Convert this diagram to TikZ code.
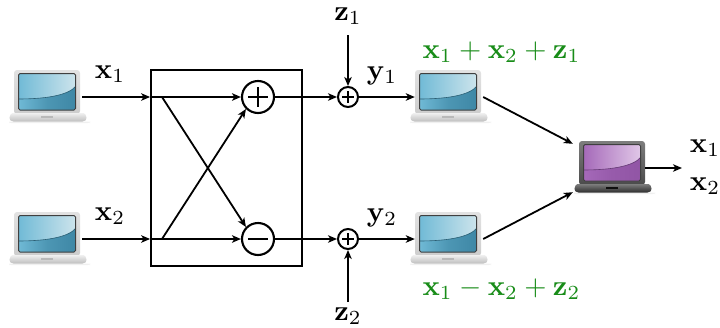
\documentclass[tikz,border=0pt]{standalone}
\usetikzlibrary{arrows.meta,positioning}
\definecolor{gtext}{RGB}{24,140,24}
\definecolor{bodyA}{RGB}{226,226,226}\definecolor{bodyB}{RGB}{205,205,205}
\definecolor{baseA}{RGB}{240,240,240}\definecolor{baseB}{RGB}{190,190,190}
\definecolor{slotA}{RGB}{185,185,185}
\definecolor{scrA}{RGB}{112,186,214}\definecolor{scrB}{RGB}{205,228,236}\definecolor{scrC}{RGB}{62,135,165}
\definecolor{dbodyA}{RGB}{125,125,125}\definecolor{dbodyB}{RGB}{75,75,75}
\definecolor{dbaseA}{RGB}{125,125,125}\definecolor{dbaseB}{RGB}{45,45,45}
\definecolor{dslot}{RGB}{15,15,15}
\definecolor{dscrA}{RGB}{165,105,185}\definecolor{dscrB}{RGB}{225,200,232}\definecolor{dscrC}{RGB}{145,85,165}
\tikzset{
  wire/.style={line width=1.8pt,black},
  arr/.style={wire,-{Stealth[length=9pt,width=7.5pt,inset=2.5pt]}},
  lab/.style={inner sep=0pt,scale=2.86},
  glab/.style={lab,text=gtext},
  op/.style={circle,draw,line width=2.1pt,minimum size=32pt,inner sep=0pt,fill=white},
  opsmall/.style={circle,draw,line width=2pt,minimum size=20pt,inner sep=0pt,fill=white},
  anchorbox/.style={inner sep=0pt,minimum width=72pt,minimum height=44pt},
}
% #1,#2 centre; #3 colour prefix of the body; #4 prefix of the base; #5 slot; #6 prefix of the screen
\newcommand{\drawlaptop}[6]{%
  \begin{scope}[shift={(#1,#2)}]
    \fill[black!6,rounded corners=2pt] (-39,25.5) rectangle (42,27);
    \shade[top color=#3A,bottom color=#3B,rounded corners=3pt] (-34,-26) rectangle (32,18);
    \shade[top color=#4A,bottom color=#4B,rounded corners=1.5pt] (-37,17) -- (37,17) -- (39,23) -- (36,25.5) -- (-36,25.5) -- (-39,23) -- cycle;
    \fill[#5] (-7,20) rectangle (5,21.5);
    \begin{scope}
      \path[clip,rounded corners=1.5pt] (-29.5,-22.5) rectangle (27.5,14);
      \shade[left color=#6A,right color=#6B] (-30,-23) rectangle (28,15);
      \shade[left color=#6A,right color=#6C,middle color=#6C!70!#6A] (-30,3) .. controls (-5,3) and (20,0) .. (28,-10) -- (28,15) -- (-30,15) -- cycle;
      \draw[#6C!70!black,line width=0.6pt] (-30,3) .. controls (-5,3) and (20,0) .. (28,-10);
    \end{scope}
    \draw[black!75,line width=1pt,rounded corners=1.5pt] (-29.5,-22.5) rectangle (27.5,14);
  \end{scope}}
\begin{document}
\begin{tikzpicture}[x=1pt,y=-1pt]
\useasboundingbox (0,0) rectangle (720,327);
% laptops
\drawlaptop{48}{96}{body}{base}{slotA}{scr}
\drawlaptop{48}{238}{body}{base}{slotA}{scr}
\drawlaptop{449}{96}{body}{base}{slotA}{scr}
\drawlaptop{449}{238}{body}{base}{slotA}{scr}
\drawlaptop{613}{167}{dbody}{dbase}{dslot}{dscr}
\node[anchorbox,minimum width=68pt] (l1) at (48,97) {};
\node[anchorbox,minimum width=68pt] (l2) at (48,239) {};
\node[anchorbox,minimum width=68pt] (r1) at (449,97) {};
\node[anchorbox,minimum width=68pt] (r2) at (449,239) {};
\node[anchorbox,minimum width=72pt,minimum height=48pt] (d) at (609,168) {};
% box
\node[draw,line width=1.8pt,minimum width=151pt,minimum height=196pt,inner sep=0pt] (box) at (226.5,168) {};
% operators
\node[op] (plus) at (258,97) {};
\node[op] (minus) at (258,239) {};
\node[opsmall] (a1) at (348,97) {};
\node[opsmall] (a2) at (348,239) {};
\draw[line width=2pt] (plus.center) ++(-10,0) -- ++(20,0) (plus.center) ++(0,-10) -- ++(0,20);
\draw[line width=2pt] (minus.center) ++(-10,0) -- ++(20,0);
\draw[line width=1.6pt] (a1.center) ++(-6,0) -- ++(12,0) (a1.center) ++(0,-6) -- ++(0,12);
\draw[line width=1.6pt] (a2.center) ++(-6,0) -- ++(12,0) (a2.center) ++(0,-6) -- ++(0,12);
% free ends
\coordinate (j1) at (162,97);
\coordinate (j2) at (162,239);
\coordinate (zt) at (348,35);
\coordinate (zb) at (348,302);
\coordinate (out) at (682,168);
% connectors
\draw[arr] (l1.east) -- (l1.east -| box.west);
\draw[arr] (l2.east) -- (l2.east -| box.west);
\draw[arr] (box.west |- j1) -- (plus.west);
\draw[arr] (box.west |- j2) -- (minus.west);
\draw[arr] (j1) -- (minus.north west);
\draw[arr] (j2) -- (plus.south west);
\draw[arr] (plus.east) -- (a1.west);
\draw[arr] (minus.east) -- (a2.west);
\draw[arr] (zt) -- (a1.north);
\draw[arr] (zb) -- (a2.south);
\draw[arr] (a1.east) -- (r1.west);
\draw[arr] (a2.east) -- (r2.west);
\draw[arr] (r1.east) -- (d.north west);
\draw[arr] (r2.east) -- (d.south west);
\draw[arr] (d.east) -- (out);
% labels
\node[lab] (tx1) at (110,74) {$\mathbf{x}_1$};
\node[lab] (tx2) at (110,216) {$\mathbf{x}_2$};
\node[lab] (tz1) at (348,16) {$\mathbf{z}_1$};
\node[lab] (tz2) at (348,316) {$\mathbf{z}_2$};
\node[lab] (ty1) at (382,76) {$\mathbf{y}_1$};
\node[lab] (ty2) at (382,218) {$\mathbf{y}_2$};
\node[glab] (g1) at (501.5,52) {$\mathbf{x}_1+\mathbf{x}_2+\mathbf{z}_1$};
\node[glab] (g2) at (501.5,289) {$\mathbf{x}_1-\mathbf{x}_2+\mathbf{z}_2$};
\node[lab] (ox1) at (705,148) {$\mathbf{x}_1$};
\node[lab] (ox2) at (705,186) {$\mathbf{x}_2$};
\end{tikzpicture}
\end{document}
